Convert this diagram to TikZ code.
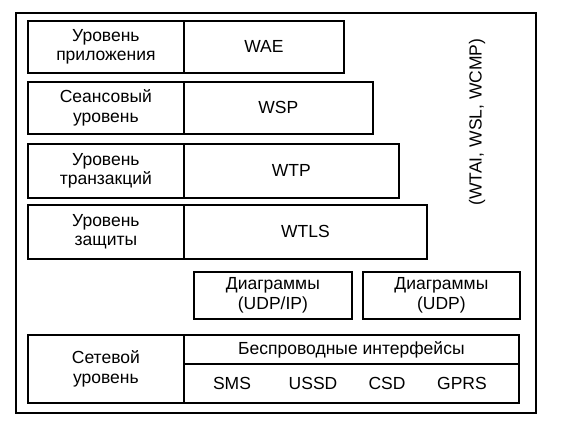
\documentclass[tikz,border=0pt]{standalone}
\usepackage{fontspec}
\setmainfont{Liberation Sans}
\begin{document}
\begin{tikzpicture}[x=1pt,y=-1pt,
  box/.style={draw,line width=1.8pt,rectangle,anchor=north west,inner sep=0pt,align=center,font=\fontsize{17.5}{19.5}\selectfont},
  txt/.style={inner sep=0pt,font=\fontsize{17.5}{19.5}\selectfont}]
\useasboundingbox (0,0) rectangle (561,421);
\node[draw,line width=1.8pt,anchor=north west,minimum width=520pt,minimum height=400pt,inner sep=0pt] (frame) at (15,12) {};
% row 1
\node[box,minimum width=156pt,minimum height=52pt] (l1) at (27,20) {Уровень\\приложения};
\node[box,minimum width=160pt,minimum height=52pt] (v1) at (183,20) {WAE};
% row 2
\node[box,minimum width=156pt,minimum height=52pt] (l2) at (27,81) {Сеансовый\\уровень};
\node[box,minimum width=189pt,minimum height=52pt] (v2) at (183,81) {WSP};
% row 3
\node[box,minimum width=156pt,minimum height=54pt] (l3) at (27,143) {Уровень\\транзакций};
\node[box,minimum width=215pt,minimum height=54pt] (v3) at (183,143) {WTP};
% row 4
\node[box,minimum width=156pt,minimum height=54pt] (l4) at (27,204) {Уровень\\защиты};
\node[box,minimum width=243pt,minimum height=54pt] (v4) at (183,204) {WTLS};
% datagrams
\node[box,minimum width=158pt,minimum height=47pt] (d1) at (193,271) {Диаграммы\\(UDP/IP)};
\node[box,minimum width=157pt,minimum height=47pt] (d2) at (362,271) {Диаграммы\\(UDP)};
% network
\node[box,minimum width=156pt,minimum height=68pt] (l5) at (27,334) {Сетевой\\уровень};
\node[box,minimum width=335pt,minimum height=29pt] (w) at (183,334) {Беспроводные интерфейсы};
\node[box,minimum width=335pt,minimum height=39pt] (b) at (183,363) {};
\node[txt] (sms) at (232,383) {SMS};
\node[txt] (ussd) at (313,383) {USSD};
\node[txt] (csd) at (387,383) {CSD};
\node[txt] (gprs) at (462,383) {GPRS};
% vertical
\node[txt,rotate=90] (side) at (477,122) {(WTAI, WSL, WCMP)};
\end{tikzpicture}
\end{document}
